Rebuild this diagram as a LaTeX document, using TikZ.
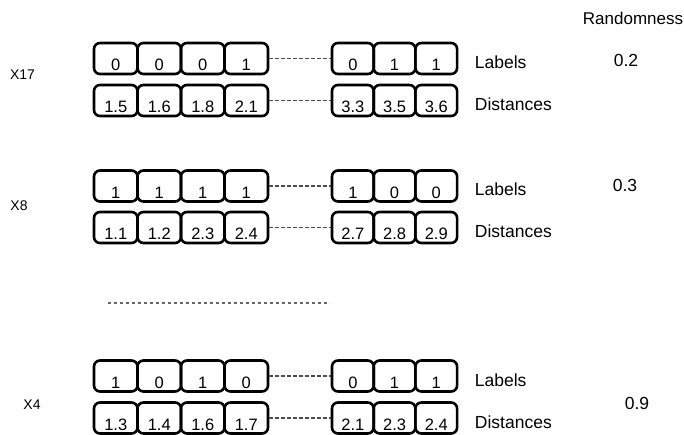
\documentclass[tikz,border=0pt]{standalone}
\usepackage{fontspec}
\setmainfont{Liberation Sans}
\usetikzlibrary{positioning}
\tikzset{
  cell box/.style={draw,line width=2.6pt,rounded corners=6pt,minimum height=31,inner xsep=0pt,inner ysep=1pt,text height=25pt,text depth=0pt,font=\fontsize{16.5}{18}\selectfont},
  gap line/.style={line width=1.4pt,black!70,dash pattern=on 3.5pt off 2.5pt},
  skip line/.style={line width=1.3pt,black!60,dash pattern=on 3pt off 3pt},
  row name/.style={font=\fontsize{14}{16}\selectfont},
  side text/.style={anchor=base west,font=\fontsize{17.5}{20}\selectfont},
  score text/.style={font=\fontsize{17.5}{20}\selectfont},
}
% one row of cells: name, centre y, first values, last values, caption
\newcommand{\drawCellRow}[5]{
\foreach \v [count=\i] in {#3}
  \node[cell box,minimum width=43.5] (#1-l\i) at ({94+43.5*(\i-0.5)},#2) {\v};
\foreach \v [count=\i] in {#4}
  \node[cell box,minimum width=41.7] (#1-r\i) at ({332+41.7*(\i-0.5)},#2) {\v};
\draw[gap line] (#1-l4) -- (#1-r1);
\node[side text] (#1-cap) at ([xshift=13pt,yshift=-10pt]#1-r3.east) {#5};
}

\begin{document}
\begin{tikzpicture}[x=1pt,y=-1pt]
\useasboundingbox (0,0) rectangle (684,435);
\node[score text,font=\fontsize{17}{20}\selectfont] (rnd-head) at (633,18) {Randomness};
% sample X17
\node[row name] (x17) at (22.5,75) {X17};
\drawCellRow{x17lab}{58.5}{0,0,0,1}{0,1,1}{Labels}
\drawCellRow{x17dist}{100.5}{1.5,1.6,1.8,2.1}{3.3,3.5,3.6}{Distances}
\node[score text] (rnd-x17) at (626,60) {0.2};
% sample X8
\node[row name] (x8) at (19,206) {X8};
\drawCellRow{x8lab}{186}{1,1,1,1}{1,0,0}{Labels}
\drawCellRow{x8dist}{227.5}{1.1,1.2,2.3,2.4}{2.7,2.8,2.9}{Distances}
\node[score text] (rnd-x8) at (625,185) {0.3};
% skipped samples
\coordinate (skip-a) at (108,303);
\coordinate (skip-b) at (330,303);
\draw[skip line] (skip-a) -- (skip-b);
% sample X4
\node[row name] (x4) at (32,405) {X4};
\drawCellRow{x4lab}{376}{1,0,1,0}{0,1,1}{Labels}
\drawCellRow{x4dist}{418}{1.3,1.4,1.6,1.7}{2.1,2.3,2.4}{Distances}
\node[score text] (rnd-x4) at (637,403) {0.9};
\end{tikzpicture}
\end{document}
